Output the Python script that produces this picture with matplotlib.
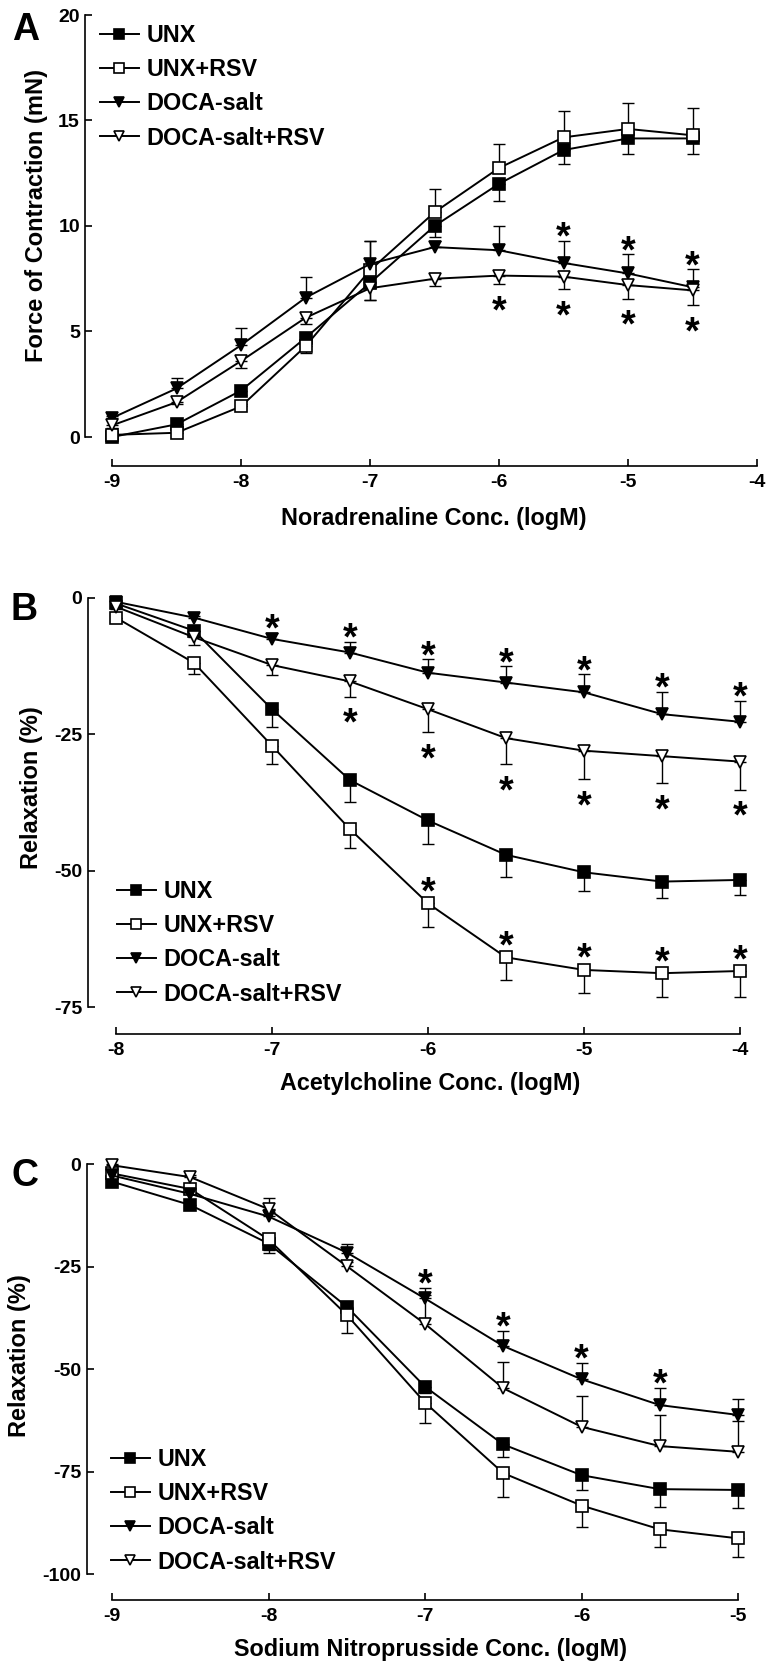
import matplotlib
matplotlib.use('Agg')
import matplotlib.pyplot as plt

plt.rcParams['font.family'] = ['Liberation Sans', 'DejaVu Sans']
plt.rcParams['font.weight'] = 'bold'
plt.rcParams['axes.unicode_minus'] = False

W, H = 767, 1669
PT = 0.72  # points per pixel at dpi 100

labels = ['UNX', 'UNX+RSV', 'DOCA-salt', 'DOCA-salt+RSV']

# ---- A: noradrenaline contraction (mN)
na_x = [-9, -8.5, -8, -7.5, -7, -6.5, -6, -5.5, -5, -4.5]
na_unx = [0.0, 0.6, 2.2, 4.7, 7.3, 10.0, 12.0, 13.6, 14.15, 14.15]
na_unx_err = [0.1, 0.1, 0.2, 0.7, 0.8, 0.5, 0.8, 0.65, 0.75, 0.75]
na_unx_rsv = [0.1, 0.2, 1.45, 4.3, 7.9, 10.65, 12.75, 14.2, 14.6, 14.3]
na_unx_rsv_err = [0.1, 0.1, 0.1, 0.2, 1.4, 1.1, 1.15, 1.25, 1.25, 1.3]
na_doca = [0.9, 2.3, 4.35, 6.6, 8.2, 9.0, 8.85, 8.25, 7.75, 7.1]
na_doca_err = [0.1, 0.5, 0.8, 1.0, 1.1, 0.3, 1.15, 1.05, 0.9, 0.85]
na_doca_rsv = [0.55, 1.65, 3.6, 5.65, 7.05, 7.5, 7.65, 7.6, 7.2, 6.95]
na_doca_rsv_err = [0.1, 0.1, 0.35, 0.3, 0.55, 0.35, 0.4, 0.6, 0.65, 0.7]

# ---- B: acetylcholine relaxation (%)
ach_x = [-8, -7.5, -7, -6.5, -6, -5.5, -5, -4.5, -4]
ach_unx = [-1.0, -6.0, -20.4, -33.4, -40.8, -47.1, -50.3, -52.0, -51.7]
ach_unx_err = [0.5, 1.0, 3.2, 4.1, 4.4, 4.0, 3.4, 3.1, 2.8]
ach_unx_rsv = [-3.6, -11.9, -27.1, -42.4, -56.0, -65.9, -68.2, -68.8, -68.4]
ach_unx_rsv_err = [0.5, 2.0, 3.4, 3.5, 4.3, 4.2, 4.3, 4.3, 4.7]
ach_doca = [-0.7, -3.6, -7.5, -10.0, -13.7, -15.5, -17.3, -21.3, -22.7]
ach_doca_err = [0.3, 0.3, 1.1, 2.0, 2.5, 3.0, 3.3, 4.1, 3.9]
ach_doca_rsv = [-1.6, -7.2, -12.3, -15.3, -20.4, -25.7, -28.0, -29.0, -30.0]
ach_doca_rsv_err = [0.5, 1.4, 1.8, 2.8, 4.2, 4.8, 5.2, 5.0, 5.2]

# ---- C: sodium nitroprusside relaxation (%)
snp_x = [-9, -8.5, -8, -7.5, -7, -6.5, -6, -5.5, -5]
snp_unx = [-4.3, -10.0, -19.4, -34.8, -54.3, -68.4, -75.9, -79.3, -79.5]
snp_unx_err = [0.5, 0.8, 2.2, 1.5, 1.5, 3.0, 3.6, 4.3, 4.5]
snp_unx_rsv = [-2.3, -6.1, -18.4, -36.8, -58.2, -75.4, -83.3, -89.1, -91.3]
snp_unx_rsv_err = [0.5, 0.8, 2.5, 4.5, 5.0, 5.9, 5.2, 4.2, 4.5]
snp_doca = [-2.8, -7.3, -12.8, -21.6, -32.8, -44.4, -52.5, -58.8, -61.2]
snp_doca_err = [0.3, 0.5, 1.0, 2.0, 2.6, 3.7, 4.0, 4.2, 3.8]
snp_doca_rsv = [-0.3, -3.2, -11.0, -24.9, -39.0, -54.7, -64.1, -68.8, -70.2]
snp_doca_rsv_err = [0.3, 0.5, 2.6, 1.0, 7.0, 6.5, 7.4, 7.6, 7.4]

# significant points (indices)
na_star_doca = [7, 8, 9]
na_star_doca_rsv = [6, 7, 8, 9]
ach_star_doca = [2, 3, 4, 5, 6, 7, 8]
ach_star_doca_rsv = [3, 4, 5, 6, 7, 8]
ach_star_unx_rsv = [4, 5, 6, 7, 8]
snp_star_doca = [4, 5, 6, 7]

# marker style per group: (marker, face)
styles = [('s', 'black'), ('s', 'white'), ('v', 'black'), ('v', 'white')]

fig = plt.figure(figsize=(W / 100, H / 100), dpi=100)


def add_axes_px(left, right, top, bottom):
    return fig.add_axes([left / W, 1 - bottom / H, (right - left) / W, (bottom - top) / H])


def star(ax, x, y, dy_px):
    # dy_px: offset of the asterisk's visible centre from (x, y), in pixels
    ax.annotate('*', (x, y), xytext=(0, (dy_px - 21) * PT), textcoords='offset points',
                ha='center', va='baseline', fontsize=27, fontweight='bold',
                annotation_clip=False)


def draw_panel(ax, x, means, errs, dirs, xlim, ylim, yticks, xoff, yoff):
    handles = []
    for m, e, d, (mk, fc), lab in zip(means, errs, dirs, styles, labels):
        zero = [0] * len(e)
        yerr = [zero, e] if d == 'up' else [e, zero]
        ax.errorbar(x, m, yerr=yerr, fmt='none', ecolor='black', elinewidth=1.0,
                    capsize=4.5, capthick=1.0, clip_on=False, zorder=2)
        h, = ax.plot(x, m, color='black', lw=1.4, marker=mk, ms=9, mfc=fc,
                     mec='black', mew=1.2, clip_on=False, zorder=3, label=lab)
        handles.append(h)
    ax.set_xlim(*xlim)
    ax.set_ylim(*ylim)
    ax.set_yticks(yticks)
    ax.set_xticks(range(int(xlim[0]), int(xlim[1]) + 1))
    for s in ['top', 'right']:
        ax.spines[s].set_visible(False)
    ax.spines['left'].set_position(('outward', xoff * PT))
    ax.spines['bottom'].set_position(('outward', yoff * PT))
    ax.spines['left'].set_bounds(ylim[0], ylim[1])
    ax.spines['bottom'].set_bounds(xlim[0], xlim[1])
    for s in ['left', 'bottom']:
        ax.spines[s].set_linewidth(1.2)
    ax.tick_params(axis='both', direction='in', length=5, width=1.2, labelsize=14)
    ax.tick_params(axis='y', pad=4)
    ax.tick_params(axis='x', pad=6)
    for t in ax.get_xticklabels() + ax.get_yticklabels():
        t.set_fontweight('bold')
    return handles


def place_labels(ax, xlabel, xl, ylabel, yl):
    ax.set_xlabel(xlabel, fontsize=16.8, fontweight='bold', va='center')
    ax.xaxis.set_label_coords(xl[0] / W, 1 - xl[1] / H, transform=fig.transFigure)
    ax.set_ylabel(ylabel, fontsize=17, fontweight='bold', va='center')
    ax.yaxis.set_label_coords(yl[0] / W, 1 - yl[1] / H, transform=fig.transFigure)


def place_legend(ax, handles, left, top):
    ax.legend(handles, labels, loc='upper left', bbox_to_anchor=(left / W, 1 - top / H),
              bbox_transform=fig.transFigure, frameon=False, borderpad=0, borderaxespad=0,
              handlelength=1.66, handletextpad=0.32, labelspacing=0.48, numpoints=1,
              markerscale=0.8, prop={'size': 16.8, 'weight': 'bold'})


# ---- Panel A
axA = add_axes_px(112, 757, 15, 437)
hA = draw_panel(axA, na_x, [na_unx, na_unx_rsv, na_doca, na_doca_rsv],
                [na_unx_err, na_unx_rsv_err, na_doca_err, na_doca_rsv_err],
                ['down', 'up', 'up', 'down'], (-9, -4), (0, 20), [0, 5, 10, 15, 20], 26.5, 29)
place_labels(axA, 'Noradrenaline Conc. (logM)', (434, 518), 'Force of Contraction (mN)', (37, 216))
place_legend(axA, hA, 100, 24)

# ---- Panel B
axB = add_axes_px(116, 740, 598, 1007)
hB = draw_panel(axB, ach_x, [ach_unx, ach_unx_rsv, ach_doca, ach_doca_rsv],
                [ach_unx_err, ach_unx_rsv_err, ach_doca_err, ach_doca_rsv_err],
                ['down', 'down', 'up', 'down'], (-8, -4), (-75, 0), [-75, -50, -25, 0], 28, 27)
place_labels(axB, 'Acetylcholine Conc. (logM)', (430, 1083), 'Relaxation (%)', (32, 788))
place_legend(axB, hB, 117, 880)

# ---- Panel C
axC = add_axes_px(112, 738, 1164, 1574)
hC = draw_panel(axC, snp_x, [snp_unx, snp_unx_rsv, snp_doca, snp_doca_rsv],
                [snp_unx_err, snp_unx_rsv_err, snp_doca_err, snp_doca_rsv_err],
                ['down', 'down', 'up', 'up'], (-9, -5), (-100, 0), [-100, -75, -50, -25, 0], 25, 26)
place_labels(axC, 'Sodium Nitroprusside Conc. (logM)', (430, 1649), 'Relaxation (%)', (20, 1356))
place_legend(axC, hC, 111, 1448)

# ---- significance asterisks (offsets in pixels from error cap / marker)
UP, DOWN, MARK_UP = 13, -17, 21
for ax, xs, m, e, idx in [
    (axA, na_x, na_doca, na_doca_err, na_star_doca),
    (axB, ach_x, ach_doca, ach_doca_err, ach_star_doca),
    (axC, snp_x, snp_doca, snp_doca_err, snp_star_doca),
]:
    for i in idx:
        star(ax, xs[i], m[i] + e[i], UP)
for ax, xs, m, e, idx in [
    (axA, na_x, na_doca_rsv, na_doca_rsv_err, na_star_doca_rsv),
    (axB, ach_x, ach_doca_rsv, ach_doca_rsv_err, ach_star_doca_rsv),
]:
    for i in idx:
        star(ax, xs[i], m[i] - e[i], DOWN)
for i in ach_star_unx_rsv:
    star(axB, ach_x[i], ach_unx_rsv[i], MARK_UP)

# panel letters
for lab, x, y in [('A', 26, 30), ('B', 24, 610), ('C', 25, 1176)]:
    fig.text(x / W, 1 - y / H, lab, fontsize=27, fontweight='bold', ha='center', va='center')

fig.savefig('out.png', dpi=100)
